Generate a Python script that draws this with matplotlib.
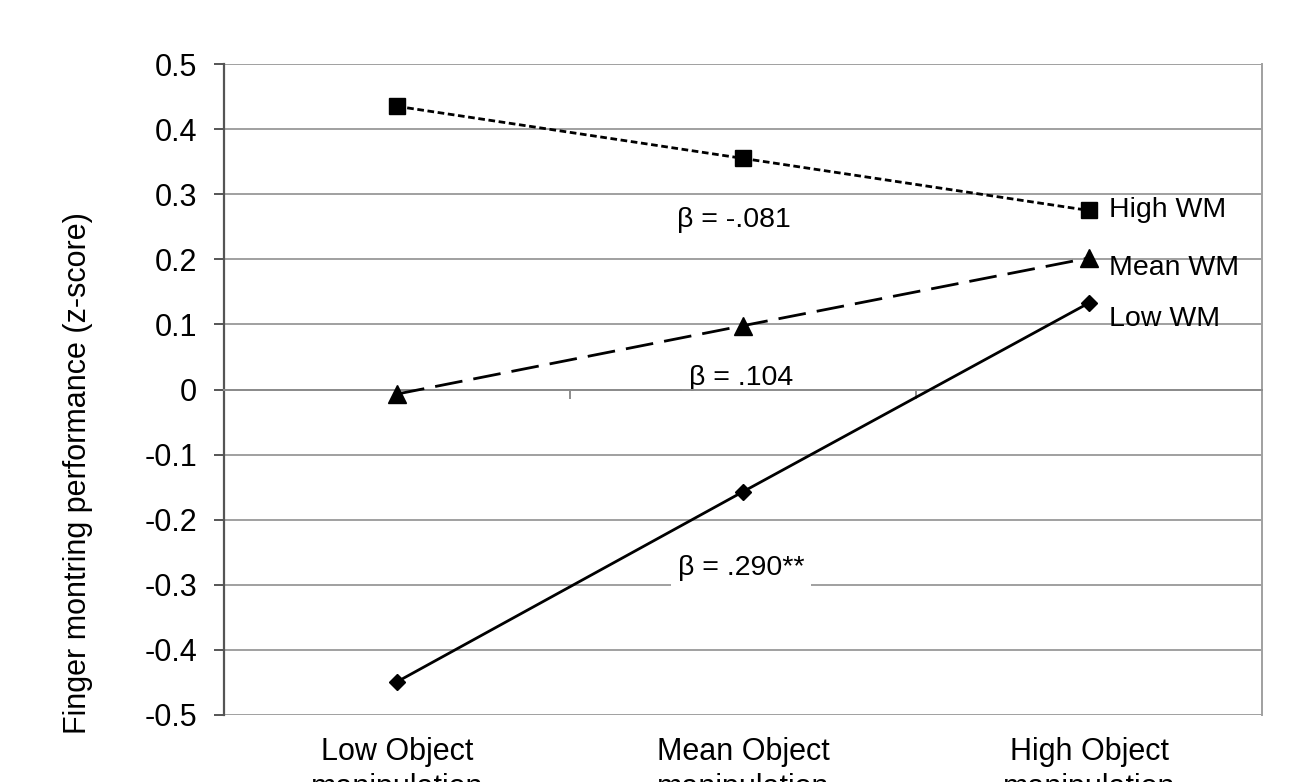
import numpy as np
import matplotlib
matplotlib.use('agg')
from matplotlib import pyplot as plt
from matplotlib import transforms

plt.rcParams['font.family'] = ['Liberation Sans', 'DejaVu Sans']

categories = ["Low Object\nmanipulation", "Mean Object\nmanipulation", "High Object\nmanipulation"]
high_wm = [0.435, 0.355, 0.275]
mean_wm = [-0.007, 0.098, 0.202]
low_wm = [-0.449, -0.157, 0.133]
series_names = ["High WM", "Mean WM", "Low WM"]
name_y = [0.265, 0.176, 0.0975]
betas = ["β = -.081", "β = .104", "β = .290**"]
beta_x = [0.975, 0.995, 0.995]
beta_y = [0.2496, 0.007, -0.285]
y_ticks = [-0.5, -0.4, -0.3, -0.2, -0.1, 0, 0.1, 0.2, 0.3, 0.4, 0.5]
y_labels = ['-0.5', '-0.4', '-0.3', '-0.2', '-0.1', '0', '0.1', '0.2', '0.3', '0.4', '0.5']

fig = plt.figure(figsize=(12.91, 7.82), dpi=100)
ax = fig.add_axes([224/1291, 1 - 715/782, (1262-224)/1291, (715-64)/782])

x = np.arange(len(categories))
ax.set_xlim(-0.5, 2.5)
ax.set_ylim(-0.5, 0.5)

grid_c = '#a0a0a0'
for v in y_ticks:
    ax.axhline(v, color=grid_c, lw=1.4, zorder=1)

ax.plot(x, high_wm, color='black', lw=2, ls=(0, (2.4, 1.3)), marker='s', ms=12, zorder=3)
ax.plot(x, mean_wm, color='black', lw=2, ls=(0, (10, 4)), marker='^', ms=12.5, zorder=3)
ax.plot(x, low_wm, color='black', lw=2, ls='-', marker='D', ms=8.5, zorder=3)

for s, bx, by in zip(betas, beta_x, beta_y):
    ax.text(bx, by, s, ha='center', va='baseline', fontsize=20.5, zorder=2,
            bbox=dict(facecolor='white', edgecolor='none', pad=5))

for s, yv in zip(series_names, name_y):
    ax.text(2.058, yv, s, ha='left', va='baseline', fontsize=20.5, zorder=4)

# category axis sits at zero, ticks between categories
ax.spines['bottom'].set_position(('data', 0))
ax.spines['bottom'].set_color('#8c8c8c')
ax.spines['bottom'].set_linewidth(1.4)
ax.set_xticks([0.5, 1.5])
ax.set_xticklabels([])
ax.tick_params(axis='x', direction='out', length=6.5, color='#8c8c8c', width=1.4)

ax.spines['top'].set_visible(False)
ax.spines['right'].set_color(grid_c)
ax.spines['right'].set_linewidth(1.4)
ax.spines['left'].set_color('#555555')
ax.spines['left'].set_linewidth(1.6)

ax.set_yticks(y_ticks)
ax.set_yticklabels(y_labels)
ax.tick_params(axis='y', direction='out', length=7.2, color='#555555', width=1.4, labelsize=22, pad=12)

trans = transforms.blended_transform_factory(ax.transData, ax.transAxes)
for xi, c in zip(x, categories):
    ax.annotate(c, xy=(xi, 0), xycoords=trans, xytext=(0, -16), textcoords='offset points',
                ha='center', va='top', fontsize=22, linespacing=1.25)

ax.set_ylabel("Finger montring performance (z-score)", fontsize=22)
ax.yaxis.set_label_coords(-0.126, 0.372)

plt.savefig("out.png", dpi=100)
